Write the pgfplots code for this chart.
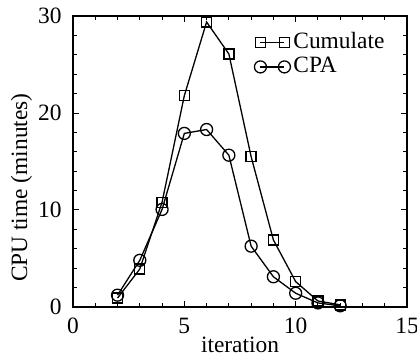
\documentclass[border=0pt]{standalone}
\usepackage{fontspec}
\setmainfont{Liberation Serif}
\usepackage{pgfplots}
\pgfplotsset{compat=1.18}
\begin{document}
\fontsize{11.7}{14}\selectfont
\begin{tikzpicture}
\useasboundingbox (-36.5pt,-25.2pt) rectangle (172pt,153.4pt);
\begin{axis}[
  scale only axis, width=167pt, height=145.3pt,
  xmin=0, xmax=15, ymin=0, ymax=30,
  xtick={0,5,10,15}, ytick={0,10,20,30},
  minor x tick num=4, minor y tick num=4,
  tick align=inside, xtick pos=both, ytick pos=both,
  major tick length=3pt, minor tick length=1.8pt,
  axis line style={line width=0.75pt},
  every tick/.style={black, line width=0.5pt},
  /pgf/number format/assume math mode=true,
  tick label style={font=\fontsize{11.7}{14}\selectfont},
  xticklabel style={yshift=-1.6pt},
  yticklabel style={xshift=-1.6pt},
  xlabel={iteration}, ylabel={CPU time (minutes)},
  label style={font=\fontsize{11.7}{14}\selectfont},
  xlabel style={yshift=3.5pt, inner sep=1pt},
  ylabel style={at={(ticklabel cs:0.41,-5pt)}},
  legend style={draw=none, fill=none, at={(rel axis cs:0.542,0.955)}, anchor=north west,
    font=\fontsize{11.7}{14}\selectfont, inner sep=0pt, row sep=-0.5pt,
    nodes={inner sep=1.5pt}},
  legend cell align=left,
  legend image code/.code={\draw[#1] plot coordinates {(0pt,0pt) (12pt,0pt)};},
]
\addplot[black, line width=0.65pt, mark=square, mark size=2.5pt] coordinates {
(2,0.9) (3,3.9) (4,10.8) (5,21.8) (6,29.4) (7,26.1) (8,15.5) (9,6.9) (10,2.6) (11,0.6) (12,0.2)};
\addlegendentry{Cumulate}
\addplot[black, line width=0.65pt, mark=o, mark size=3pt] coordinates {
(2,1.2) (3,4.8) (4,10.05) (5,17.9) (6,18.3) (7,15.65) (8,6.26) (9,3.1) (10,1.4) (11,0.4) (12,0.1)};
\addlegendentry{CPA}
\end{axis}
\end{tikzpicture}
\end{document}
